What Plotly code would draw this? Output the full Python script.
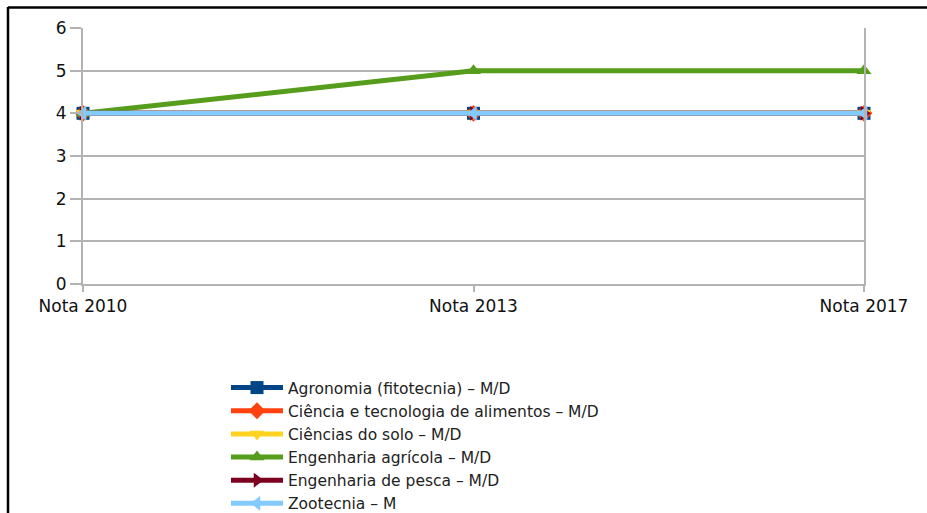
import plotly.graph_objects as go

# Notas por programa de pós-graduação
categories = ["Nota 2010", "Nota 2013", "Nota 2017"]
series_names = [
    "Agronomia (fitotecnia) – M/D",
    "Ciência e tecnologia de alimentos – M/D",
    "Ciências do solo – M/D",
    "Engenharia agrícola – M/D",
    "Engenharia de pesca – M/D",
    "Zootecnia – M",
]
agronomia = [4, 4, 4]
ciencia_alimentos = [4, 4, 4]
ciencias_solo = [4, 4, 4]
eng_agricola = [4, 5, 5]
eng_pesca = [4, 4, 4]
zootecnia = [4, 4, 4]
y_ticks = [0, 1, 2, 3, 4, 5, 6]

series_values = [agronomia, ciencia_alimentos, ciencias_solo, eng_agricola, eng_pesca, zootecnia]
colors = ["#004586", "#ff420e", "#ffd320", "#579d1c", "#7e0021", "#83caff"]
symbols = ["square", "diamond", "triangle-down", "triangle-up", "triangle-right", "triangle-left"]

W, H = 927, 513
L, R, T, B = 83, 864, 28, 284  # plot area in pixels

fig = go.Figure()
for i, (name, vals) in enumerate(zip(series_names, series_values)):
    fig.add_trace(go.Scatter(
        x=categories, y=vals, name=name, mode="lines+markers",
        line=dict(color=colors[i], width=5),
        marker=dict(symbol=symbols[i], size=13, color=colors[i]),
        legendgroup=f"g{i}",
        cliponaxis=False,
    ))


def px_x(p):
    return (p - L) / (R - L)


def px_y(p):
    return (B - p) / (B - T)


# outer frame (top and left edges)
frame = dict(type="line", xref="paper", yref="paper", line=dict(color="black", width=2.5))
fig.add_shape(**frame, x0=px_x(8), x1=px_x(W + 5), y0=px_y(7.5), y1=px_y(7.5))
fig.add_shape(**frame, x0=px_x(8), x1=px_x(8), y0=px_y(7), y1=px_y(H + 5))

text_family = "DejaVu Sans, Liberation Sans, Arial, sans-serif"
axis_font = dict(family=text_family, size=17, color="#111111")

fig.update_layout(
    width=W, height=H,
    margin=dict(l=L, r=W - R, t=T, b=H - B, autoexpand=False),
    paper_bgcolor="white", plot_bgcolor="white",
    showlegend=True,
    legend=dict(
        xref="container", yref="container",
        x=226 / W, y=1 - 371 / H, xanchor="left", yanchor="top",
        font=dict(family=text_family, size=15.5, color="#222222"),
        traceorder="grouped", tracegroupgap=0, itemwidth=52,
        bgcolor="rgba(0,0,0,0)",
    ),
    xaxis=dict(
        type="category", range=[0, 2],
        showgrid=False, showline=True, linecolor="#b3b3b3", linewidth=2,
        ticks="outside", ticklen=6, tickcolor="#b3b3b3", tickwidth=2,
        tickfont=axis_font, zeroline=False,
    ),
    yaxis=dict(
        range=[0, 6], tickvals=y_ticks,
        showgrid=True, gridcolor="#b3b3b3", gridwidth=2,
        showline=True, linecolor="#b3b3b3", linewidth=2, mirror=True,
        ticks="outside", ticklen=11, tickcolor="#b3b3b3", tickwidth=2,
        tickfont=axis_font, zeroline=False,
    ),
)

fig.write_html("out.html")
